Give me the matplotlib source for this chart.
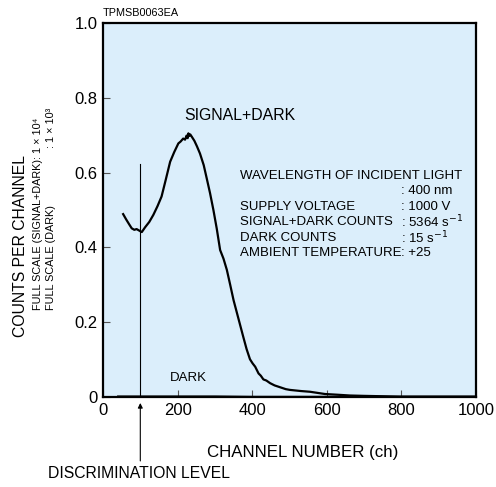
import matplotlib
matplotlib.use("Agg")
import matplotlib.pyplot as plt

plt.rcParams['font.family'] = ['Liberation Sans', 'DejaVu Sans']

# Signal+Dark pulse height distribution
channel = [54, 62, 70, 77, 84, 90, 97, 104, 113, 124, 135, 146, 157, 168, 180, 191, 202,
           208, 215, 220, 224, 227, 229, 231, 234, 238, 245, 252, 260, 270, 278, 287,
           296, 305, 314, 323, 332, 341, 350, 363, 376, 385, 394, 401, 408, 413, 417,
           423, 430, 438, 448, 460, 475, 490, 501, 530, 555, 575, 595, 630, 662, 700,
           750, 796, 850, 900, 950, 1000]
counts = [0.489, 0.475, 0.462, 0.451, 0.447, 0.449, 0.445, 0.441, 0.454, 0.468, 0.487,
          0.510, 0.536, 0.580, 0.629, 0.655, 0.678, 0.683, 0.691, 0.688, 0.699, 0.692,
          0.705, 0.698, 0.702, 0.696, 0.685, 0.670, 0.651, 0.620, 0.585, 0.545, 0.500,
          0.450, 0.393, 0.370, 0.340, 0.300, 0.259, 0.210, 0.161, 0.128, 0.101, 0.090,
          0.081, 0.071, 0.063, 0.057, 0.047, 0.044, 0.037, 0.031, 0.026, 0.021, 0.019,
          0.016, 0.014, 0.011, 0.008, 0.006, 0.004, 0.003, 0.002, 0.001, 0.001, 0.001,
          0.001, 0.001]

# Dark distribution (nearly flat at the bottom)
dark_channel = [40, 100, 200, 300, 400, 500, 600, 700, 800, 900, 1000]
dark_counts = [0.002, 0.002, 0.002, 0.002, 0.001, 0.001, 0.001, 0.001, 0.001, 0.001, 0.001]

x_ticks = [0, 200, 400, 600, 800, 1000]
y_ticks = [0, 0.2, 0.4, 0.6, 0.8, 1.0]
y_ticklabels = ["0", "0.2", "0.4", "0.6", "0.8", "1.0"]

disc_level = 100

info_labels = ["WAVELENGTH OF INCIDENT LIGHT", "", "SUPPLY VOLTAGE",
               "SIGNAL+DARK COUNTS", "DARK COUNTS", "AMBIENT TEMPERATURE"]
info_values = ["", ": 400 nm", ": 1000 V", ": 5364 s$^{-1}$", ": 15 s$^{-1}$", ": +25"]

W, H = 496, 487
fig = plt.figure(figsize=(W / 100, H / 100), dpi=100)
ax = fig.add_axes([103 / W, 1 - 397 / H, 373 / W, 374 / H])
ax.set_facecolor('#DBEEFB')

ax.plot(dark_channel, dark_counts, color='black', lw=1.2)
ax.plot(channel, counts, color='black', lw=1.6)

ax.set_xlim(0, 1000)
ax.set_ylim(0, 1.0)
ax.set_xticks(x_ticks)
ax.set_yticks(y_ticks)
ax.set_yticklabels(y_ticklabels)
ax.tick_params(direction='in', length=5, width=0.8, color='#555555',
               labelsize=12, pad=4)
for s in ax.spines.values():
    s.set_linewidth(1.6)

# discrimination level line
ax.plot([disc_level, disc_level], [0, 0.623], color='black', lw=0.8)
ax.annotate('', xy=(disc_level, -0.016), xytext=(disc_level, -0.171),
            xycoords='data', textcoords='data',
            arrowprops=dict(arrowstyle='-|>', color='black', lw=0.8,
                            mutation_scale=7, shrinkA=0, shrinkB=0),
            annotation_clip=False)
fig.text(139 / W, 1 - 474 / H, "DISCRIMINATION LEVEL", ha='center', va='center',
         fontsize=11.3)

ax.text(228, 0.051, "DARK", ha='center', va='center', fontsize=9.5)
ax.text(366, 0.754, "SIGNAL+DARK", ha='center', va='center', fontsize=11.4)

y0 = 0.592
dy = 0.0415
for i, (lab, val) in enumerate(zip(info_labels, info_values)):
    yy = y0 - i * dy
    if lab:
        ax.text(367, yy, lab, ha='left', va='center', fontsize=9.5)
    if val:
        ax.text(800, yy, val, ha='left', va='center', fontsize=9.5)

fig.text(303 / W, 1 - 452 / H, "CHANNEL NUMBER (ch)", ha='center', va='center',
         fontsize=12.2)

fig.text(21 / W, 1 - 246 / H, "COUNTS PER CHANNEL", rotation=90, ha='center',
         va='center', fontsize=11.3)
fig.text(38.5 / W, 1 - 310 / H, "FULL SCALE (SIGNAL+DARK): 1 × 10⁴", rotation=90,
         ha='center', va='bottom', fontsize=7.8)
fig.text(51.5 / W, 1 - 310 / H, "FULL SCALE (DARK)", rotation=90,
         ha='center', va='bottom', fontsize=7.8)
fig.text(51.5 / W, 1 - 148 / H, ": 1 × 10³", rotation=90,
         ha='center', va='bottom', fontsize=7.8)

fig.text(103 / W, 1 - 13 / H, "TPMSB0063EA", ha='left', va='center', fontsize=7.8)

fig.savefig("out.png", dpi=100)
